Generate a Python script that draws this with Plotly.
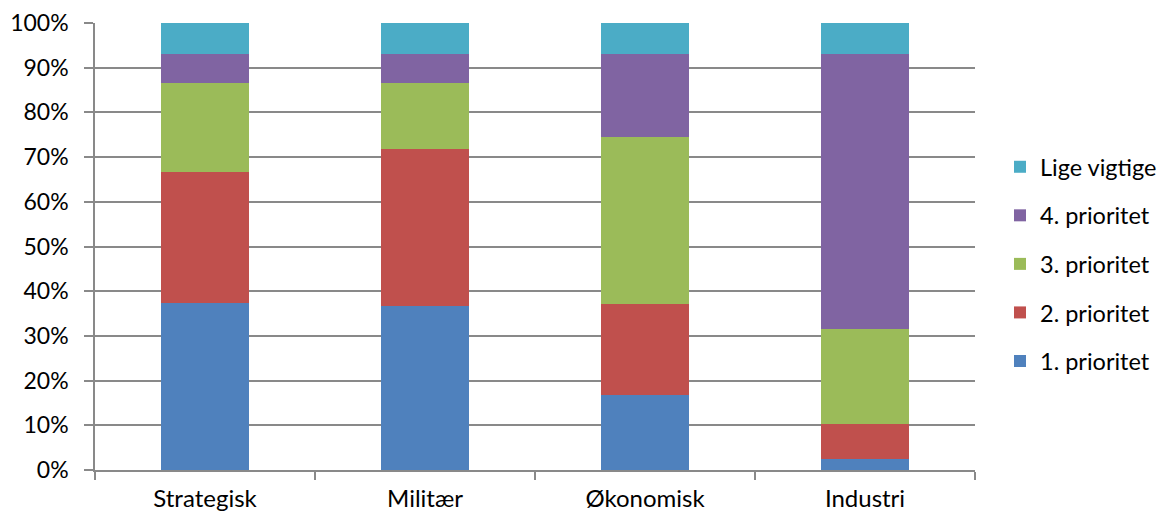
import plotly.graph_objects as go

categories = ["Strategisk", "Militær", "Økonomisk", "Industri"]
series_names = ["1. prioritet", "2. prioritet", "3. prioritet", "4. prioritet", "Lige vigtige"]
p1 = [37.3, 36.6, 16.8, 2.5]
p2 = [29.4, 35.2, 20.4, 7.7]
p3 = [19.9, 14.8, 37.3, 21.3]
p4 = [6.4, 6.4, 18.5, 61.5]
lige = [7.0, 7.0, 7.0, 7.0]
colors = ["#4F81BD", "#C0504D", "#9BBB59", "#8064A2", "#4BACC6"]
tick_vals = [0, 10, 20, 30, 40, 50, 60, 70, 80, 90, 100]
tick_text = [f"{v}%" for v in tick_vals]

fig = go.Figure()
for i, (name, vals, col) in enumerate(zip(series_names, [p1, p2, p3, p4, lige], colors)):
    fig.add_trace(go.Bar(
        x=categories, y=vals, name=name, legendgroup=name,
        legendrank=1000 - i,
        marker=dict(color=col, line=dict(width=0)),
        width=0.4,
    ))

font = "Lato, 'Open Sans', sans-serif"
fig.update_layout(
    barmode="stack",
    width=1162, height=515,
    margin=dict(l=95, r=187, t=23, b=45, autoexpand=False),
    plot_bgcolor="white", paper_bgcolor="white",
    font=dict(family=font, size=24, color="black"),
    legend=dict(
        traceorder="grouped", tracegroupgap=15,
        xref="container", yref="container",
        x=1000/1162, xanchor="left",
        y=1-264/515, yanchor="middle",
        font=dict(size=23.5, family=font),
        itemwidth=30,
    ),
    bargap=0.6,
)
fig.update_yaxes(
    range=[0, 100], tickvals=tick_vals, ticktext=tick_text,
    showgrid=True, gridcolor="#898989", gridwidth=1.5,
    showline=True, linecolor="#898989", linewidth=1.5,
    ticks="outside", ticklen=9, tickcolor="#898989", tickwidth=1.5,
    zeroline=False, ticklabelstandoff=11, tickfont=dict(size=23),
    automargin=False,
)
fig.update_xaxes(
    showgrid=False, showline=True, linecolor="#898989", linewidth=1.5,
    ticks="outside", tickson="boundaries", ticklen=8, tickcolor="#898989", tickwidth=1.5,
    tickfont=dict(size=24), ticklabelstandoff=6, automargin=False,
)
fig.write_html("out.html", config={"displayModeBar": False},
               post_script="document.body.style.margin='0';")
